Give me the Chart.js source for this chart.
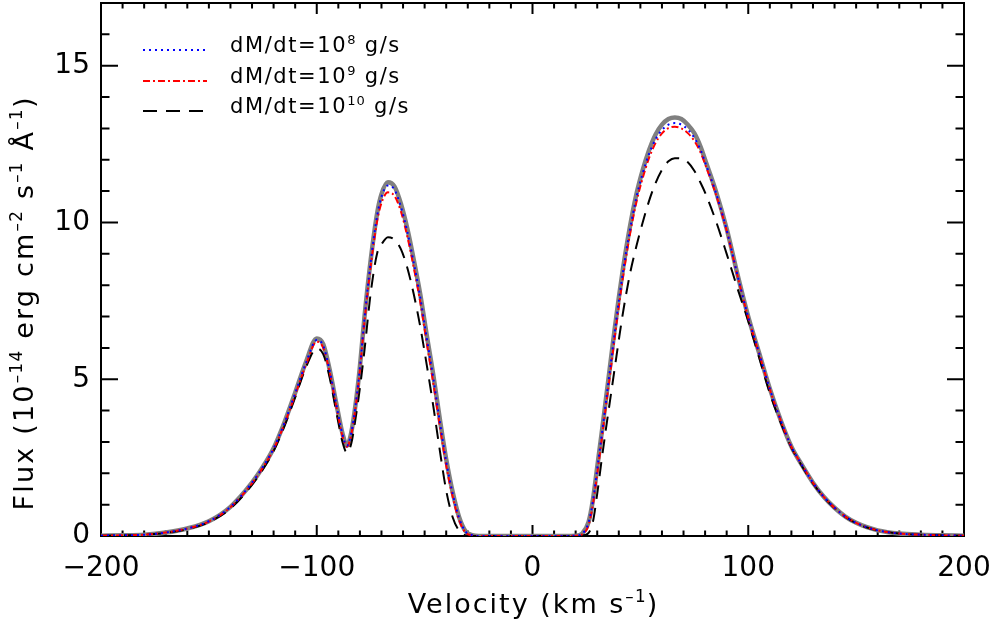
<!DOCTYPE html>
<html><head><meta charset="utf-8">
<script src="https://cdn.jsdelivr.net/npm/chart.js@4.4.1/dist/chart.umd.min.js"></script>
<style>html,body{margin:0;padding:0;background:#fff;} #wrap{width:991px;height:624px;}</style>
</head><body><div id="wrap"><canvas id="c" width="991" height="624"></canvas></div>
<script>
// ---- data ----
const velocity = [
  -200,-190,-180,-170,-160,-150,-140,-130,-125,-120,-115,-110,-105,-100,
  -97,-94,-91,-88,-86,-84,-82,-80,-78,-75,-72,-70,-67,
  -64,-61,-58,-55,-52,-49,-46,-43,-40,-37,-34,-31,-28,-25,
  -15,0,15,20,
  23,26,28,30,32,34,36,38,40,42,45,48,51,54,57,60,63,66,
  69,72,75,78,80,85,90,95,100,105,110,115,120,125,130,135,140,145,150,155,160,170,180,190,200
];
const fluxModel = [
  0.01,0.02,0.04,0.11,0.24,0.47,0.93,1.70,2.20,2.80,3.62,4.57,5.55,6.30,
  6.12,5.30,4.25,3.25,2.88,3.30,4.20,5.40,6.90,8.80,10.30,10.90,11.28,
  11.15,10.60,9.80,8.80,7.70,6.40,5.15,3.75,2.45,1.40,0.60,0.15,0.03,0.00,
  0,0,0,0.01,
  0.08,0.45,1.15,2.20,3.25,4.35,5.45,6.55,7.60,8.55,9.80,10.85,11.65,12.30,12.80,13.12,13.30,13.35,
  13.30,13.12,12.85,12.40,12.00,11.00,9.80,8.35,7.00,5.85,4.70,3.70,2.85,2.25,1.70,1.25,0.90,0.62,0.42,0.28,0.18,0.08,0.04,0.02,0.01
];
const fluxMdot8 = [
  0.01,0.02,0.04,0.11,0.24,0.47,0.93,1.70,2.20,2.79,3.60,4.55,5.52,6.25,
  6.07,5.27,4.22,3.22,2.88,3.28,4.17,5.36,6.85,8.74,10.22,10.82,11.18,
  11.05,10.50,9.70,8.70,7.60,6.30,5.05,3.66,2.38,1.35,0.57,0.14,0.03,0.00,
  0,0,0,0.01,
  0.07,0.43,1.11,2.14,3.17,4.26,5.35,6.45,7.50,8.45,9.70,10.75,11.55,12.18,12.65,12.95,13.12,13.17,
  13.12,12.96,12.70,12.30,11.92,10.95,9.76,8.32,6.98,5.84,4.69,3.70,2.85,2.25,1.70,1.25,0.90,0.62,0.42,0.28,0.18,0.08,0.04,0.02,0.01
];
const fluxMdot9 = [
  0.01,0.02,0.04,0.11,0.24,0.46,0.92,1.68,2.18,2.77,3.57,4.50,5.46,6.20,
  6.00,5.22,4.15,3.17,2.85,3.24,4.10,5.28,6.75,8.60,10.05,10.62,10.96,
  10.85,10.35,9.55,8.55,7.45,6.15,4.88,3.52,2.25,1.25,0.50,0.11,0.02,0.00,
  0,0,0,0.01,
  0.05,0.35,1.00,1.98,3.03,4.12,5.17,6.27,7.32,8.28,9.56,10.60,11.40,12.05,12.53,12.84,13.01,13.05,
  13.00,12.85,12.60,12.22,11.86,10.90,9.74,8.30,6.96,5.82,4.68,3.69,2.84,2.25,1.70,1.25,0.90,0.62,0.42,0.28,0.18,0.08,0.04,0.02,0.01
];
const fluxMdot10 = [
  0.01,0.02,0.04,0.10,0.22,0.44,0.88,1.63,2.12,2.71,3.50,4.42,5.38,5.98,
  5.80,5.05,3.98,2.98,2.65,2.95,3.75,4.72,5.85,7.75,9.02,9.30,9.53,
  9.45,9.15,8.55,7.70,6.67,5.45,4.15,2.75,1.45,0.60,0.17,0.02,0.00,0.00,
  0,0,0,0,
  0.01,0.10,0.45,1.35,2.40,3.40,4.35,5.30,6.25,7.15,8.30,9.20,9.98,10.68,11.25,11.68,11.95,12.05,
  12.04,11.92,11.65,11.25,10.95,10.05,9.00,7.90,6.85,5.70,4.55,3.62,2.82,2.22,1.68,1.24,0.89,0.61,0.41,0.27,0.18,0.08,0.04,0.02,0.01
];
const seriesLabels = ['dM/dt=10⁸ g/s', 'dM/dt=10⁹ g/s', 'dM/dt=10¹⁰ g/s'];
const xTickValues = [-200, -100, 0, 100, 200];
const yTickValues = [0, 5, 10, 15];
const xTitle = 'Velocity (km s⁻¹)';
const yTitle = 'Flux (10⁻¹⁴ erg cm⁻² s⁻¹ Å⁻¹)';

const pts = arr => velocity.map((v, i) => ({x: v, y: arr[i]}));
const FONT = '"DejaVu Sans", sans-serif';

// draw text whose unicode superscripts are rendered as raised, smaller glyphs
const SUP = '⁰¹²³⁴⁵⁶⁷⁸⁹⁻';
const NORM = '0123456789–';
function runs(text) {
  const out = [];
  for (const ch of text) {
    const k = SUP.indexOf(ch);
    const sup = k >= 0;
    const c = sup ? NORM[k] : ch;
    if (out.length && out[out.length - 1].sup === sup) out[out.length - 1].t += c;
    else out.push({t: c, sup});
  }
  return out;
}
function drawRich(ctx, text, x, y, size, spacing, align) {
  const rs = runs(text);
  let w = 0;
  rs.forEach(r => {
    ctx.font = (r.sup ? size * 0.62 : size) + 'px ' + FONT;
    ctx.letterSpacing = (r.sup ? spacing * 0.6 : spacing) + 'px';
    r.w = ctx.measureText(r.t).width;
    w += r.w;
  });
  let cx = align === 'center' ? x - (w - spacing) / 2 : x;
  ctx.textAlign = 'left';
  ctx.textBaseline = 'alphabetic';
  rs.forEach(r => {
    ctx.font = (r.sup ? size * 0.62 : size) + 'px ' + FONT;
    ctx.letterSpacing = (r.sup ? spacing * 0.6 : spacing) + 'px';
    ctx.fillText(r.t, cx, r.sup ? y - size * 0.40 : y);
    cx += r.w;
  });
  ctx.letterSpacing = '0px';
}

const framePlugin = {
  id: 'frame',
  beforeDatasetsDraw(chart) {
    const {ctx, chartArea: a, scales: {x, y}} = chart;
    ctx.save();
    ctx.strokeStyle = '#000';
    ctx.lineWidth = 2;
    ctx.beginPath();
    for (let v = -200; v <= 200; v += 10) {
      const px = x.getPixelForValue(v);
      const len = (v % 100 === 0) ? 11 : 5.5;
      ctx.moveTo(px, a.bottom); ctx.lineTo(px, a.bottom - len);
      ctx.moveTo(px, a.top); ctx.lineTo(px, a.top + len);
    }
    for (let f = 0; f <= 17; f += 1) {
      const py = y.getPixelForValue(f);
      const len = (f % 5 === 0) ? 17 : 8.5;
      ctx.moveTo(a.left, py); ctx.lineTo(a.left + len, py);
      ctx.moveTo(a.right, py); ctx.lineTo(a.right - len, py);
    }
    ctx.stroke();
    ctx.strokeRect(a.left, a.top, a.right - a.left, a.bottom - a.top);
    ctx.restore();
  },
  afterDraw(chart) {
    const {ctx, chartArea: a} = chart;
    ctx.save();
    ctx.fillStyle = '#000';
    // axis titles
    drawRich(ctx, xTitle, (a.left + a.right) / 2, 613, 27, 2.0, 'center');
    ctx.save();
    ctx.translate(33, 304);
    ctx.rotate(-Math.PI / 2);
    drawRich(ctx, yTitle, 0, 0, 27, 2.2, 'center');
    ctx.restore();
    // legend
    const rows = [50, 81, 111];
    const legendSets = chart.data.datasets.filter(d => seriesLabels.includes(d.label));
    legendSets.forEach((d, i) => {
      const yy = rows[i];
      ctx.beginPath();
      ctx.strokeStyle = d.borderColor;
      ctx.lineWidth = d.borderWidth;
      ctx.setLineDash(d.borderDash || []);
      ctx.moveTo(143, yy); ctx.lineTo(207, yy);
      ctx.stroke();
      ctx.setLineDash([]);
      drawRich(ctx, d.label, 230, yy + 2, 21, 1.6, 'left');
    });
    ctx.restore();
  }
};

const noPad = s => { s.paddingTop = 0; s.paddingBottom = 0; s.paddingLeft = 0; s.paddingRight = 0; };

new Chart(document.getElementById('c'), {
  type: 'line',
  data: {
    datasets: [
      {label: 'model', data: pts(fluxModel), borderColor: '#808080', borderWidth: 4.5, order: 4},
      {label: seriesLabels[0], data: pts(fluxMdot8), borderColor: '#0000ff', borderWidth: 2, borderDash: [2, 4], order: 1},
      {label: seriesLabels[1], data: pts(fluxMdot9), borderColor: '#ff0000', borderWidth: 2, borderDash: [7, 3, 2, 3], order: 2},
      {label: seriesLabels[2], data: pts(fluxMdot10), borderColor: '#000000', borderWidth: 2, borderDash: [14, 9], order: 3}
    ]
  },
  options: {
    responsive: false,
    animation: false,
    devicePixelRatio: 1,
    layout: {padding: {top: 3, right: 27, left: 0, bottom: 0}},
    plugins: {legend: {display: false}, tooltip: {enabled: false}},
    elements: {point: {radius: 0}, line: {cubicInterpolationMode: 'monotone', fill: false}},
    scales: {
      x: {
        type: 'linear', min: -200, max: 200,
        grid: {display: false, drawTicks: false}, border: {display: false},
        afterBuildTicks: s => { s.ticks = xTickValues.map(v => ({value: v})); },
        ticks: {padding: 16, color: '#000', maxRotation: 0, autoSkip: false,
          font: {family: FONT, size: 28},
          callback: v => String(v).replace('-', '−')},
        afterFit: s => { s.height = 88; noPad(s); }
      },
      y: {
        type: 'linear', min: 0, max: 17,
        grid: {display: false, drawTicks: false}, border: {display: false},
        afterBuildTicks: s => { s.ticks = yTickValues.map(v => ({value: v})); },
        ticks: {padding: 11, color: '#000', font: {family: FONT, size: 28}},
        afterFit: s => { s.width = 101; noPad(s); }
      }
    }
  },
  plugins: [framePlugin]
});
</script>
</body></html>
